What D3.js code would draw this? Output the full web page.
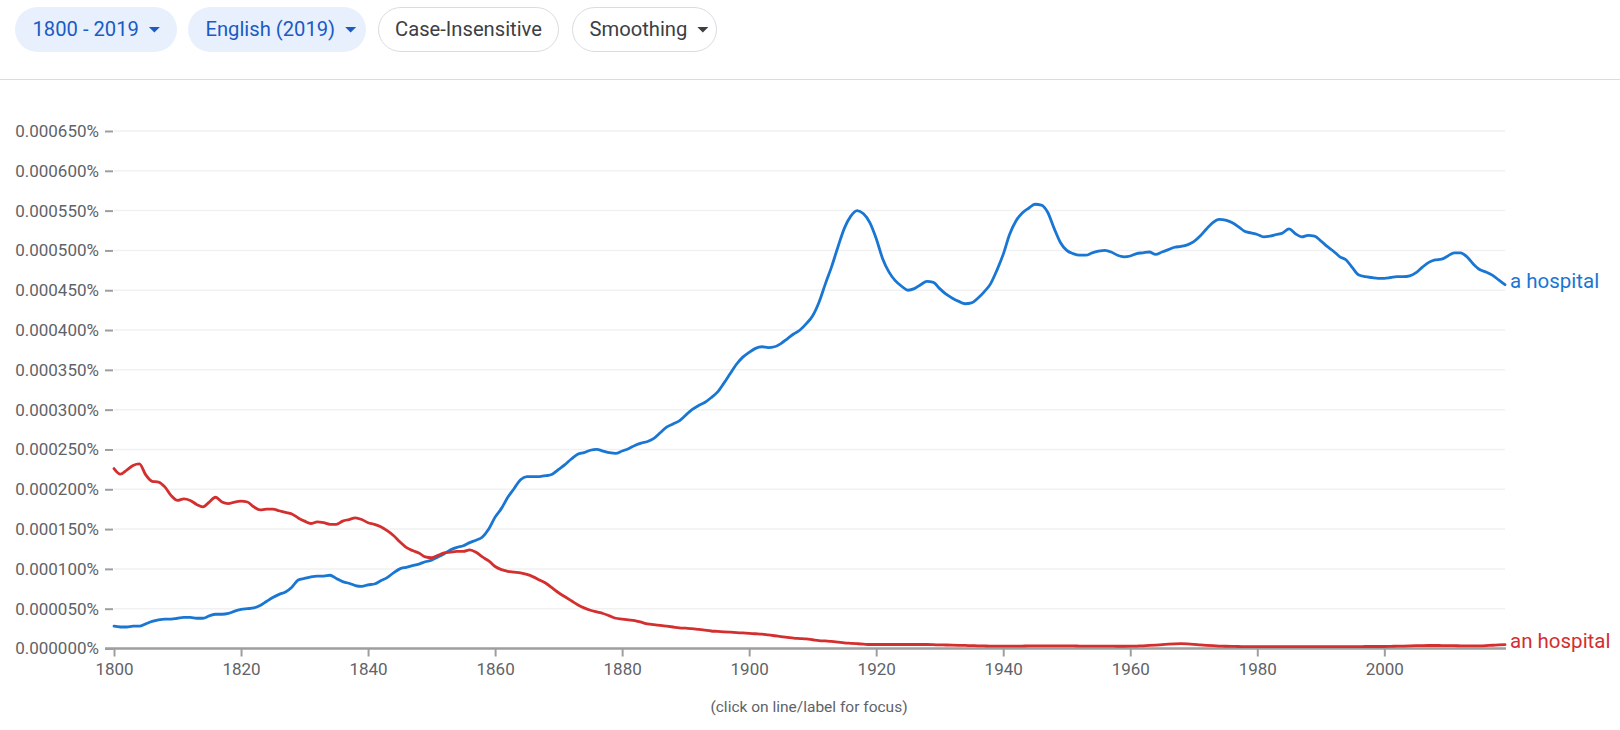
<!DOCTYPE html>
<html>
<head>
<meta charset="utf-8">
<script src="https://cdn.jsdelivr.net/npm/d3@7"></script>
<style>
  html, body { margin: 0; padding: 0; background: #fff; }
  svg { display: block; font-family: Roboto, "Noto Sans", sans-serif; }
</style>
</head>
<body>
<svg id="chart" width="1620" height="730"></svg>
<script>
// ---- DATA (values in millionths of a percent, i.e. 1 = 0.000001%) ----
const startYear = 1800;
const endYear = 2019;
const seriesNames = ["a hospital", "an hospital"];

const aHospital = [
  28,27,27,28,28,31,34,36,37,37, 38,39,39,38,38,41,43,43,44,47,
  49,50,51,54,59,64,68,71,77,86, 88,90,91,91,92,88,84,82,79,78,
  80,81,85,89,95,100,102,104,106,109, 111,115,119,124,127,129,133,136,140,150,
  165,176,190,201,212,216,216,216,217,219, 225,231,238,244,246,249,250,248,246,245,
  248,251,255,258,260,264,271,278,282,286, 293,300,305,309,315,322,333,345,357,366,
  372,377,379,378,379,383,389,395,400,408, 418,435,458,480,505,528,543,550,546,535,
  515,490,473,462,455,450,452,457,461,460, 452,445,440,436,433,434,440,448,458,475,
  495,520,537,547,553,558,557,548,528,510, 500,496,494,494,497,499,500,498,494,492,
  493,496,497,498,495,498,501,504,505,507, 511,518,527,535,539,538,535,530,524,522,
  520,517,518,520,522,527,521,517,519,518, 512,505,499,492,488,478,469,467,466,465,
  465,466,467,467,468,472,479,485,488,489, 493,497,497,492,483,476,473,469,463,457
];

const anHospital = [
  226,219,224,230,232,218,210,209,203,192, 186,188,186,181,178,184,190,184,182,184,
  185,184,178,174,175,175,173,171,169,164, 160,157,159,158,156,156,160,162,164,162,
  158,156,153,148,142,134,127,123,120,115, 114,117,120,121,122,122,124,121,115,110,
  103,99,97,96,95,93,90,86,82,76, 70,65,60,55,51,48,46,44,41,38,
  37,36,35,33,31,30,29,28,27,26, 25.5,25,24,23,22,21.5,21,20.5,20,19.5,
  19,18.5,18,17,16,15,14,13,12.5,12, 11,10,9.5,9,8,7,6.5,6,5.5,5,
  5,5,5,5,5,5,5,5,5,4.8, 4.5,4.4,4.2,4,3.8,3.6,3.4,3.2,3.1,3,
  3,3,3,3.1,3.2,3.3,3.4,3.4,3.3,3.2, 3.2,3.2,3.1,3,3,3,3,2.9,2.8,2.8,
  2.9,3.1,3.4,3.8,4.3,4.9,5.4,5.8,6,5.8, 5.3,4.6,4,3.5,3.1,2.8,2.6,2.5,2.4,2.3,
  2.3,2.3,2.3,2.3,2.3,2.3,2.4,2.4,2.4,2.4, 2.4,2.4,2.4,2.4,2.4,2.4,2.4,2.5,2.5,2.5,
  2.5,2.7,2.9,3.1,3.3,3.5,3.7,3.8,3.8,3.7, 3.6,3.5,3.4,3.3,3.3,3.4,3.7,4.1,4.5,4.9
];

const xTickYears = [1800, 1820, 1840, 1860, 1880, 1900, 1920, 1940, 1960, 1980, 2000];
const yTickValues = [0, 50, 100, 150, 200, 250, 300, 350, 400, 450, 500, 550, 600, 650];
const yTickLabels = ["0.000000%","0.000050%","0.000100%","0.000150%","0.000200%","0.000250%",
  "0.000300%","0.000350%","0.000400%","0.000450%","0.000500%","0.000550%","0.000600%","0.000650%"];

const buttons = [
  { label: "1800 - 2019", caret: true, active: true },
  { label: "English (2019)", caret: true, active: true },
  { label: "Case-Insensitive", caret: false, active: false },
  { label: "Smoothing", caret: true, active: false }
];
const footerText = "(click on line/label for focus)";

// ---- STYLE / LAYOUT ----
const colors = ["#1976d2", "#d32f2f"];
const svg = d3.select("#chart");

// Header buttons
const btnLayout = [
  { x: 15, w: 162 }, { x: 188, w: 178 }, { x: 378, w: 181 }, { x: 572, w: 145 }
];
const btnG = svg.append("g");
buttons.forEach((b, i) => {
  const L = btnLayout[i];
  const g = btnG.append("g").attr("transform", `translate(${L.x},7)`);
  g.append("rect")
    .attr("x", b.active ? 0 : 0.5).attr("y", b.active ? 0 : 0.5)
    .attr("width", b.active ? L.w : L.w - 1).attr("height", b.active ? 45 : 44)
    .attr("rx", 22.5)
    .attr("fill", b.active ? "#e8f0fe" : "#fff")
    .attr("stroke", b.active ? "none" : "#dadce0");
  const tc = b.active ? "#1a5bc4" : "#3c4043";
  const txt = g.append("text")
    .attr("x", 17.5).attr("y", 29)
    .attr("font-size", 20.2)
    .attr("fill", tc)
    .text(b.label);
  const tw = txt.node().getComputedTextLength();
  if (b.caret) {
    const cx = 17.5 + tw + 15.5;
    g.append("path")
      .attr("d", `M${cx - 5.5},20 L${cx + 5.5},20 L${cx},25.5 Z`)
      .attr("fill", tc);
  } else {
    txt.attr("x", (L.w - tw) / 2);
  }
});
svg.append("line")
  .attr("x1", 0).attr("x2", 1620).attr("y1", 79.5).attr("y2", 79.5)
  .attr("stroke", "#dadce0").attr("stroke-width", 1);

// Scales
const x = d3.scaleLinear().domain([startYear, endYear]).range([114, 1505]);
const y = d3.scaleLinear().domain([0, 650]).range([648.5, 131]);

// Gridlines
svg.append("g").selectAll("line").data(yTickValues.slice(1)).join("line")
  .attr("x1", 114).attr("x2", 1505)
  .attr("y1", d => y(d)).attr("y2", d => y(d))
  .attr("stroke", "#f1f1f1").attr("stroke-width", 1.5);

// Y axis
const yAxis = d3.axisLeft(y).tickValues(yTickValues)
  .tickFormat((d, i) => yTickLabels[i]).tickSize(8).tickPadding(6);
const yg = svg.append("g").attr("transform", "translate(113,0)").call(yAxis);
yg.select(".domain").remove();
yg.selectAll(".tick line").attr("stroke", "#9e9e9e").attr("stroke-width", 2);
yg.selectAll(".tick text").attr("fill", "#5f6368").attr("font-size", 17)
  .attr("font-family", "Roboto, sans-serif");

// X axis
const xAxis = d3.axisBottom(x).tickValues(xTickYears).tickFormat(d3.format("d"))
  .tickSizeInner(8).tickSizeOuter(0).tickPadding(6);
const xg = svg.append("g").attr("transform", "translate(0,648.5)").call(xAxis);
xg.select(".domain").attr("stroke", "#9e9e9e").attr("stroke-width", 2.5)
  .attr("d", `M105,0H1506`);
xg.selectAll(".tick line").attr("stroke", "#9e9e9e").attr("stroke-width", 2);
xg.selectAll(".tick text").attr("fill", "#5f6368").attr("font-size", 17)
  .attr("font-family", "Roboto, sans-serif");

// Lines
const series = [aHospital, anHospital];
const line = d3.line()
  .x((d, i) => x(startYear + i))
  .y(d => y(d))
  .curve(d3.curveMonotoneX);

series.forEach((s, k) => {
  svg.append("path")
    .datum(s)
    .attr("d", line)
    .attr("fill", "none")
    .attr("stroke", colors[k])
    .attr("stroke-width", 2.8)
    .attr("stroke-linejoin", "round")
    .attr("stroke-linecap", "round");
  svg.append("text")
    .attr("x", 1510)
    .attr("y", y(s[s.length - 1]) + 3.5)
    .attr("font-size", 20.5)
    .attr("fill", colors[k])
    .text(seriesNames[k]);
});

// Footer
svg.append("text")
  .attr("x", 809).attr("y", 712)
  .attr("text-anchor", "middle")
  .attr("font-size", 15.5)
  .attr("fill", "#5f6368")
  .text(footerText);
</script>
</body>
</html>
